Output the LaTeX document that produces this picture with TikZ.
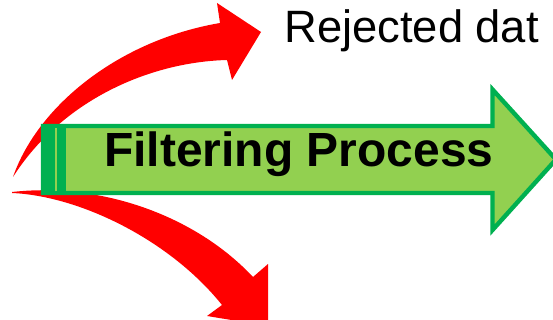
\documentclass[tikz,border=0pt]{standalone}
\usepackage{fontspec}
\setmainfont{Liberation Sans}
\definecolor{arrowred}{HTML}{FF0000}
\definecolor{darkgreen}{HTML}{00B050}
\definecolor{lightgreen}{HTML}{92D050}
\begin{document}
\begin{tikzpicture}[x=0.02cm,y=-0.02cm,
		redarrow/.style={fill=arrowred,draw=none},
		greenarrow/.style={fill=lightgreen,draw=darkgreen,line width=2.5pt,line join=miter}]
	\useasboundingbox (0,0) rectangle (553,320);
	\clip (0,0) rectangle (553,320);
	% upper red arrow (rejected)
	\fill[redarrow] (13,177) .. controls (38,105) and (120,40) .. (220,23)
		-- (217,3) -- (261,32) -- (232,80) -- (227,60)
		.. controls (150,62) and (62,100) .. (13,177) -- cycle;
	% lower red arrow
	\fill[redarrow] (12,192) .. controls (100,182) and (195,215) .. (253,277)
		-- (268,264) -- (268,326) -- (207,316) -- (222,305)
		.. controls (170,240) and (80,196) .. (12,193) -- cycle;
	% green block arrow
	\draw[greenarrow] (43,126) -- (492.5,126) -- (492.5,89.5) -- (556,159.5)
		-- (492.5,230) -- (492.5,193) -- (43,193) -- cycle;
	\fill[darkgreen] (41,124.5) rectangle (66,195);
	\draw[lightgreen,line width=1.2pt] (56,128) -- (56,191);
	\node[anchor=base west,inner sep=0pt,font=\fontsize{27.3}{32}\selectfont\bfseries] (filtering) at (104,166.7) {Filtering Process};
	\node[anchor=base west,inner sep=0pt,font=\fontsize{25.8}{30}\selectfont] (rejected) at (284,43) {Rejected dat};
\end{tikzpicture}
\end{document}
